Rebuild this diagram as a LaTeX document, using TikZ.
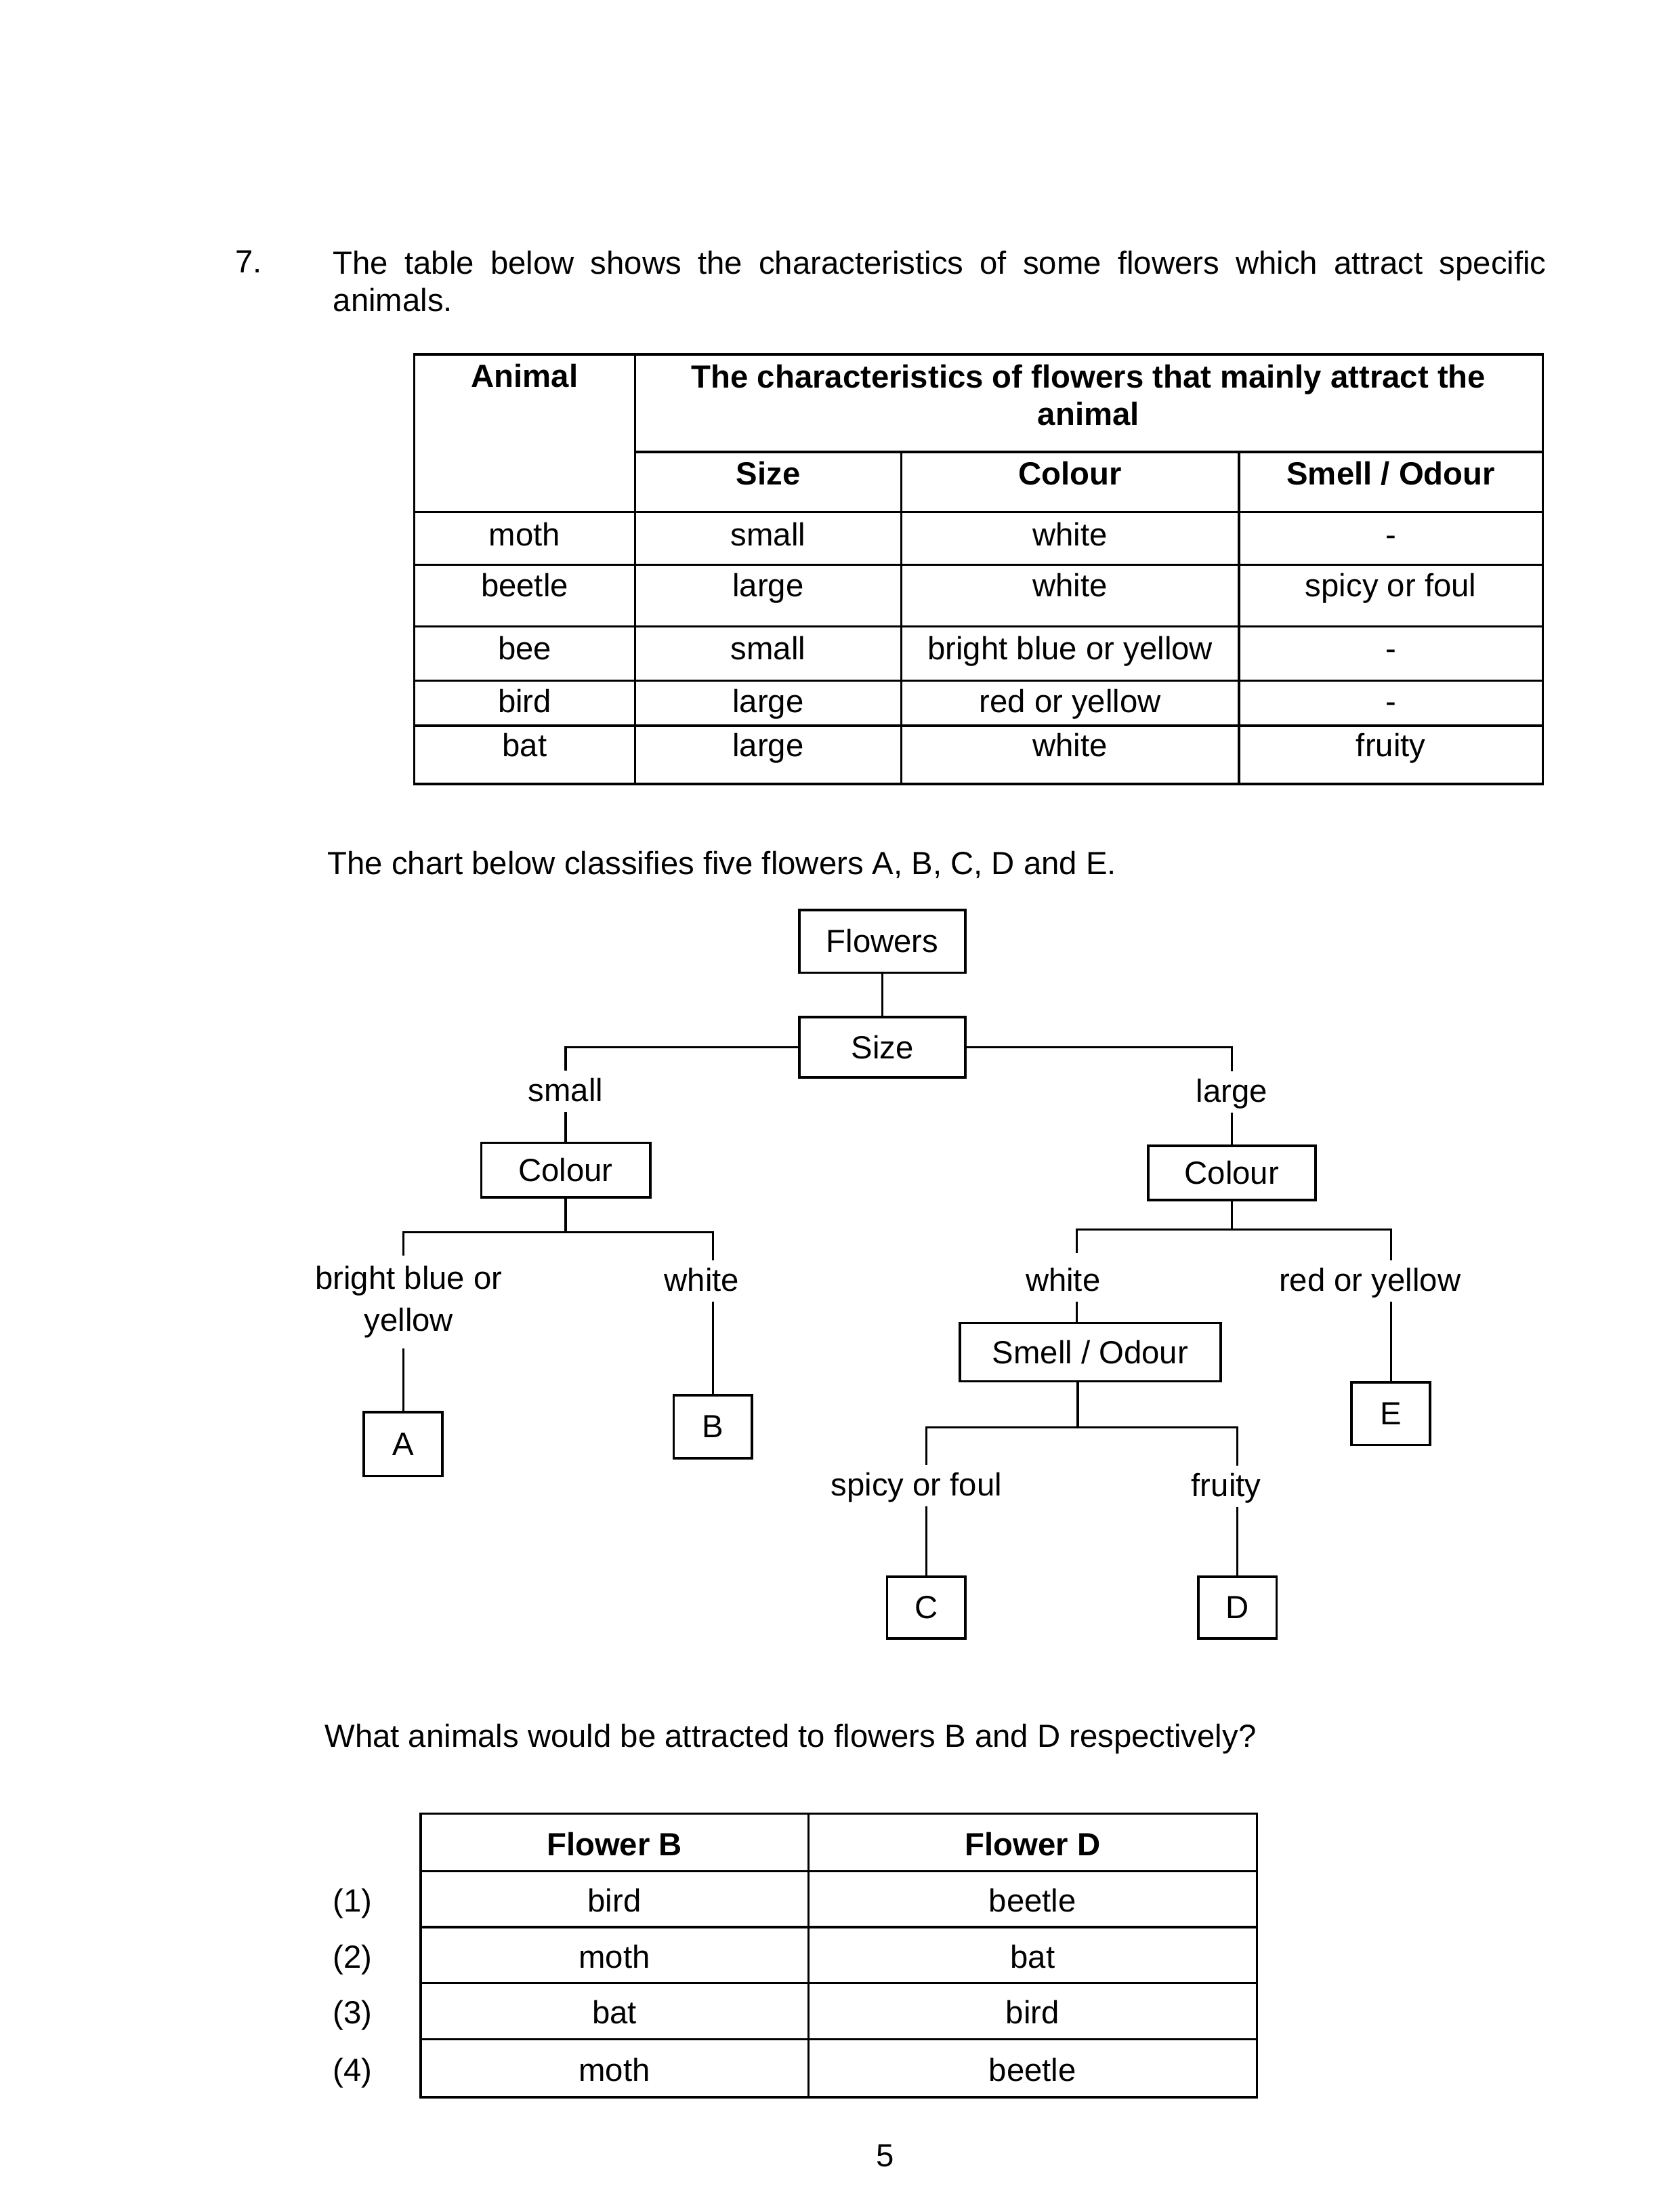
\documentclass[tikz,border=0pt]{standalone}
\usepackage{fontspec}
\setmainfont{Liberation Sans}
\usepackage{tikz}
\usetikzlibrary{calc}
\newcommand{\bodyfont}{\fontsize{11.4}{13.2}\selectfont}

\begin{document}
\begin{tikzpicture}[-, line width=0.8pt, font=\bodyfont,
        box/.style={draw, line width=0.9pt, minimum height=0.77cm},
        lbl/.style={text height=0.73em, text depth=0pt},
        head/.style={lbl, font=\bodyfont\bfseries}]
        \useasboundingbox (0, 0) rectangle (21, -27.349);

        \node[anchor=north west, inner sep=0pt](num) at (2.93, -3.122){7.};
        \node[anchor=north west, inner sep=0pt, text width=15.17cm, align=justify](intro) at (4.151, -3.122){The table below shows the characteristics of some flowers which attract specific \mbox{animals.}};

        \draw (5.18, -4.43) rectangle (19.29, -9.80);
        \draw (7.94, -4.43) -- (7.94, -9.80);
        \draw (11.27, -5.65) -- (11.27, -9.80);
        \draw (15.49, -5.65) -- (15.49, -9.80);
        \draw (7.94, -5.65) -- (19.29, -5.65);
        \draw (5.18, -6.40) -- (19.29, -6.40);
        \draw (5.18, -7.06) -- (19.29, -7.06);
        \draw (5.18, -7.83) -- (19.29, -7.83);
        \draw (5.18, -8.51) -- (19.29, -8.51);
        \draw (5.18, -9.07) -- (19.29, -9.07);

        \node[head](Animal) at (6.56, -4.71){Animal};
        \node[font=\bodyfont\bfseries, align=center](Chars) at (13.61, -4.94){The characteristics of flowers that mainly attract the\\animal};
        \node[head](Size_h) at (9.605, -5.93){Size};
        \node[head](Colour_h) at (13.38, -5.93){Colour};
        \node[head](Smell_h) at (17.39, -5.93){Smell / Odour};

        \node[lbl](moth) at (6.56, -6.69){moth};
        \node[lbl](moth_s) at (9.605, -6.69){small};
        \node[lbl](moth_c) at (13.38, -6.69){white};
        \node[lbl](moth_o) at (17.39, -6.69){-};

        \node[lbl](beetle) at (6.56, -7.33){beetle};
        \node[lbl](beetle_s) at (9.605, -7.33){large};
        \node[lbl](beetle_c) at (13.38, -7.33){white};
        \node[lbl](beetle_o) at (17.39, -7.33){spicy or foul};

        \node[lbl](bee) at (6.56, -8.12){bee};
        \node[lbl](bee_s) at (9.605, -8.12){small};
        \node[lbl](bee_c) at (13.38, -8.12){bright blue or yellow};
        \node[lbl](bee_o) at (17.39, -8.12){-};

        \node[lbl](bird) at (6.56, -8.78){bird};
        \node[lbl](bird_s) at (9.605, -8.78){large};
        \node[lbl](bird_c) at (13.38, -8.78){red or yellow};
        \node[lbl](bird_o) at (17.39, -8.78){-};

        \node[lbl](bat) at (6.56, -9.33){bat};
        \node[lbl](bat_s) at (9.605, -9.33){large};
        \node[lbl](bat_c) at (13.38, -9.33){white};
        \node[lbl](bat_o) at (17.39, -9.33){fruity};

        \node[anchor=west, inner sep=0pt](chart) at (4.081, -10.814){The chart below classifies five flowers A, B, C, D and E.};

        \node[box, minimum width=2.08cm, minimum height=0.785cm](Flowers) at (11.032, -11.765){Flowers};
        \node[box, minimum width=2.08cm, minimum height=0.75cm](Size) at (11.032, -13.09){Size};
        \node[lbl](small) at (7.073, -13.64){small};
        \node[lbl](large) at (15.401, -13.648){large};
        \node[box, minimum width=2.11cm, minimum height=0.68cm](ColL) at (7.073, -14.625){Colour};
        \node[box, minimum width=2.09cm, minimum height=0.68cm](ColR) at (15.401, -14.66){Colour};

        \node[align=center](bbl) at (5.111, -16.273){bright blue or\\[1.6pt]yellow};
        \node[lbl](whL) at (8.773, -16.012){white};
        \node[lbl](whR) at (13.291, -16.012){white};
        \node[lbl](roy) at (17.128, -16.012){red or yellow};

        \node[box, minimum width=3.26cm, minimum height=0.73cm](Smell) at (13.631, -16.901){Smell / Odour};
        \node[box, minimum width=0.98cm, minimum height=0.8cm](A) at (5.041, -18.052){A};
        \node[box, minimum width=0.98cm, minimum height=0.785cm](B) at (8.913, -17.834){B};
        \node[box, minimum width=0.98cm, minimum height=0.785cm](E) at (17.39, -17.669){E};

        \node[lbl](spicy) at (11.459, -18.569){spicy or foul};
        \node[lbl](fruity) at (15.331, -18.576){fruity};
        \node[box, minimum width=0.98cm, minimum height=0.77cm](C) at (11.581, -20.093){C};
        \node[box, minimum width=0.98cm, minimum height=0.77cm](D) at (15.471, -20.093){D};

        \coordinate (jL) at (7.073, -15.40);
        \coordinate (jR) at (15.401, -15.366);
        \coordinate (wR) at (13.465, -15.663);
        \coordinate (jS) at (13.474, -17.843);

        \path(Flowers) edge node {}(Size);
        \draw (Size.west) -| (small.north);
        \draw (Size.east) -| (large.north);
        \path(ColL |- small.south) edge node {}(ColL.north);
        \path(ColR |- large.south) edge node {}(ColR.north);

        \draw (ColL.south) -- (jL);
        \draw (A |- bbl.north) |- (jL) -| (B |- whL.north);
        \path(A |- bbl.south) edge node {}(A.north);
        \path(B |- whL.south) edge node {}(B.north);

        \draw (ColR.south) -- (jR);
        \draw (wR) |- (jR) -| (E |- roy.north);
        \path(wR |- whR.south) edge node {}(wR |- Smell.north);
        \path(E |- roy.south) edge node {}(E.north);

        \draw (jS |- Smell.south) -- (jS);
        \draw (C |- spicy.north) |- (jS) -| (D |- fruity.north);
        \path(C |- spicy.south) edge node {}(C.north);
        \path(D |- fruity.south) edge node {}(D.north);

        \node[anchor=west, inner sep=0pt](question) at (4.047, -21.733){What animals would be attracted to flowers B and D respectively?};

        \draw (5.26, -22.67) rectangle (15.715, -26.215);
        \draw (10.106, -22.67) -- (10.106, -26.215);
        \draw (5.26, -23.39) -- (15.715, -23.39);
        \draw (5.26, -24.088) -- (15.715, -24.088);
        \draw (5.26, -24.785) -- (15.715, -24.785);
        \draw (5.26, -25.491) -- (15.715, -25.491);

        \node[head](FlB) at (7.683, -23.069){Flower B};
        \node[head](FlD) at (12.911, -23.069){Flower D};

        \node[lbl](opt1) at (4.409, -23.773){(1)};
        \node[lbl](opt1_b) at (7.683, -23.773){bird};
        \node[lbl](opt1_d) at (12.911, -23.773){beetle};

        \node[lbl](opt2) at (4.409, -24.471){(2)};
        \node[lbl](opt2_b) at (7.683, -24.471){moth};
        \node[lbl](opt2_d) at (12.911, -24.471){bat};

        \node[lbl](opt3) at (4.409, -25.169){(3)};
        \node[lbl](opt3_b) at (7.683, -25.169){bat};
        \node[lbl](opt3_d) at (12.911, -25.169){bird};

        \node[lbl](opt4) at (4.409, -25.884){(4)};
        \node[lbl](opt4_b) at (7.683, -25.884){moth};
        \node[lbl](opt4_d) at (12.911, -25.884){beetle};

        \node[lbl](page) at (11.07, -26.95){5};

    \end{tikzpicture}
\end{document}
